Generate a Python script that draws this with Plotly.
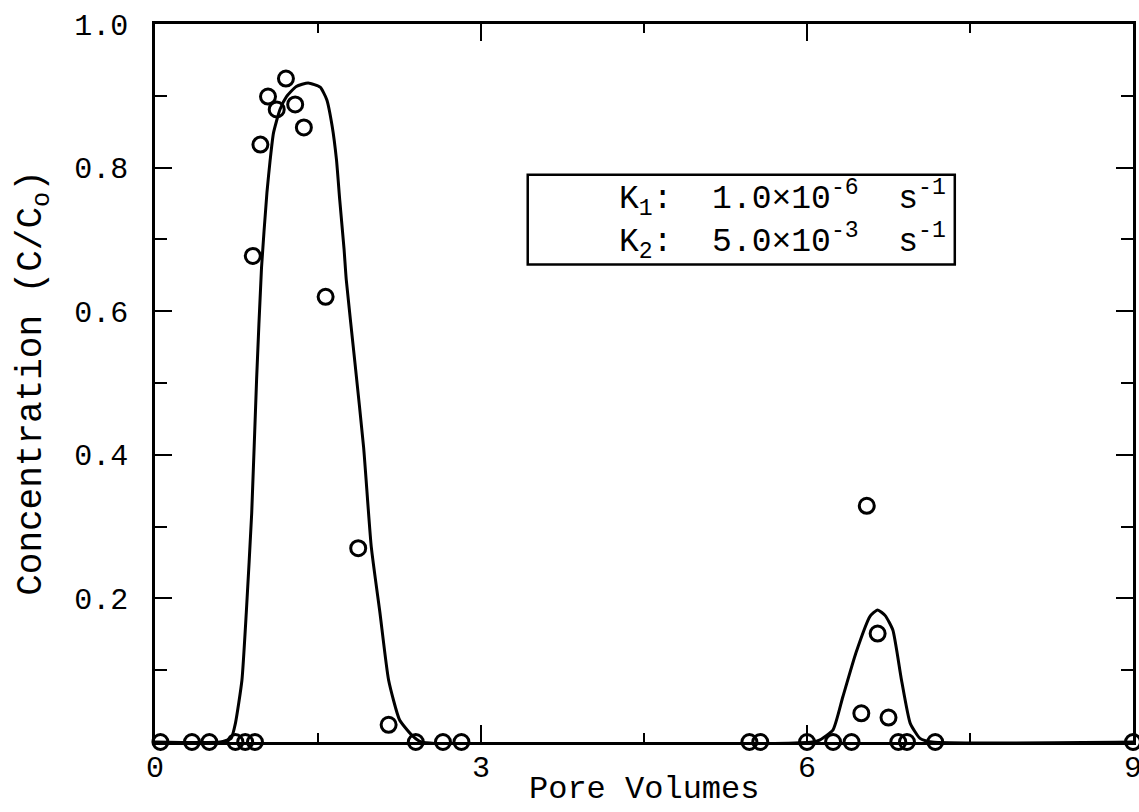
import plotly.graph_objects as go

# Observed data points (pore volumes, C/Co)
obs_x = [0.05, 0.34, 0.50, 0.74, 0.83, 0.92,
         0.90, 0.97, 1.04, 1.12, 1.205, 1.29, 1.37, 1.57, 1.87, 2.15,
         2.40, 2.65, 2.82,
         5.47, 5.57, 6.00, 6.24, 6.41, 6.50, 6.55, 6.65, 6.75, 6.84, 6.92, 7.18, 9.0]
obs_y = [0.0, 0.0, 0.0, 0.0, 0.0, 0.0,
         0.677, 0.832, 0.899, 0.881, 0.924, 0.888, 0.856, 0.62, 0.27, 0.024,
         0.0, 0.0, 0.0,
         0.0, 0.0, 0.0, 0.0, 0.0, 0.040, 0.329, 0.151, 0.034, 0.0, 0.0, 0.0, 0.0]

# Model curve
fit_x = [0.0, 0.60, 0.70, 0.74, 0.80, 0.84, 0.89, 0.935, 0.98, 1.03, 1.06, 1.09,
         1.15, 1.21, 1.30, 1.41, 1.52, 1.58, 1.63, 1.67, 1.70, 1.74, 1.76, 1.84,
         1.92, 1.99, 2.07, 2.15, 2.25, 2.36, 2.45,
         6.05, 6.12, 6.24, 6.33, 6.45, 6.58, 6.65, 6.72, 6.79, 6.87, 6.95, 7.04, 7.15, 9.0]
fit_y = [0.0, 0.0, 0.005, 0.026, 0.086, 0.18, 0.319, 0.505, 0.66, 0.765, 0.811, 0.848,
         0.881, 0.899, 0.913, 0.918, 0.912, 0.895, 0.858, 0.811, 0.755, 0.686, 0.644, 0.528,
         0.41, 0.272, 0.18, 0.086, 0.031, 0.01, 0.0,
         0.0, 0.003, 0.017, 0.063, 0.124, 0.175, 0.184, 0.176, 0.156, 0.086, 0.026, 0.005, 0.0, 0.0]

x_ticks = [0, 3, 6, 9]
x_ticktext = ["0", "3", "6", "9"]
y_ticks = [0.2, 0.4, 0.6, 0.8, 1.0]
y_ticktext = ["0.2", "0.4", "0.6", "0.8", "1.0"]

box_x = [3.43, 7.36]
box_y = [0.665, 0.79]
k_lines = ["K<sub>1</sub>:  1.0×10<sup>-6</sup>  s<sup>-1</sup>",
           "K<sub>2</sub>:  5.0×10<sup>-3</sup>  s<sup>-1</sup>"]

FONT = "Liberation Mono"

fig = go.Figure()
fig.add_trace(go.Scatter(x=fit_x, y=fit_y, mode="lines",
                         line=dict(color="black", width=3, shape="spline", smoothing=0.5),
                         showlegend=False))
fig.add_trace(go.Scatter(x=obs_x, y=obs_y, mode="markers",
                         marker=dict(symbol="circle-open", size=15,
                                     color="black", line=dict(width=3)),
                         showlegend=False, cliponaxis=False))

fig.add_shape(type="rect", xref="x", yref="y",
              x0=box_x[0], x1=box_x[1], y0=box_y[0], y1=box_y[1],
              line=dict(color="black", width=2.5), fillcolor="white", layer="below")
fig.add_annotation(x=box_x[1] - 0.06, y=(box_y[0] + box_y[1]) / 2, xref="x", yref="y",
                   text=k_lines[0] + "<br>" + k_lines[1], showarrow=False,
                   xanchor="right", yanchor="middle", align="left",
                   font=dict(family=FONT, size=33, color="black"))

# x-axis title as a paper-positioned label
fig.add_annotation(x=0.5, y=-0.066, xref="paper", yref="paper",
                   text="Pore Volumes", showarrow=False,
                   xanchor="center", yanchor="middle",
                   font=dict(family=FONT, size=32, color="black"))

fig.update_xaxes(range=[0, 9], tickmode="array", tickvals=x_ticks, ticktext=x_ticktext,
                 ticks="inside", ticklen=17, tickwidth=2, tickcolor="black",
                 minor=dict(tickmode="linear", tick0=0, dtick=1.5, ticks="inside",
                            ticklen=9, tickwidth=2, tickcolor="black"),
                 showline=True, linecolor="black", linewidth=2.5, mirror="ticks",
                 showgrid=False, zeroline=False, automargin=False,
                 ticklabelstandoff=-4, ticklabeloverflow="allow",
                 tickfont=dict(family=FONT, size=30, color="black"))
fig.update_yaxes(range=[0, 1.0], tickmode="array", tickvals=y_ticks, ticktext=y_ticktext,
                 ticks="inside", ticklen=17, tickwidth=2, tickcolor="black",
                 minor=dict(tickmode="linear", tick0=0, dtick=0.1, ticks="inside",
                            ticklen=12, tickwidth=2, tickcolor="black"),
                 showline=True, linecolor="black", linewidth=2.5, mirror="ticks",
                 showgrid=False, zeroline=False, automargin=False,
                 ticklabelstandoff=18,
                 tickfont=dict(family=FONT, size=30, color="black"),
                 title=dict(text="Concentration (C/C<sub>o</sub>)", standoff=22,
                            font=dict(family=FONT, size=36, color="black")))

fig.update_layout(width=1139, height=812,
                  margin=dict(l=155, r=6, t=24, b=70),
                  paper_bgcolor="white", plot_bgcolor="white",
                  font=dict(family=FONT, color="black"))

fig.write_html("out.html", config={"displayModeBar": False},
               post_script="document.body.style.margin='0px';document.body.style.overflow='hidden';")
